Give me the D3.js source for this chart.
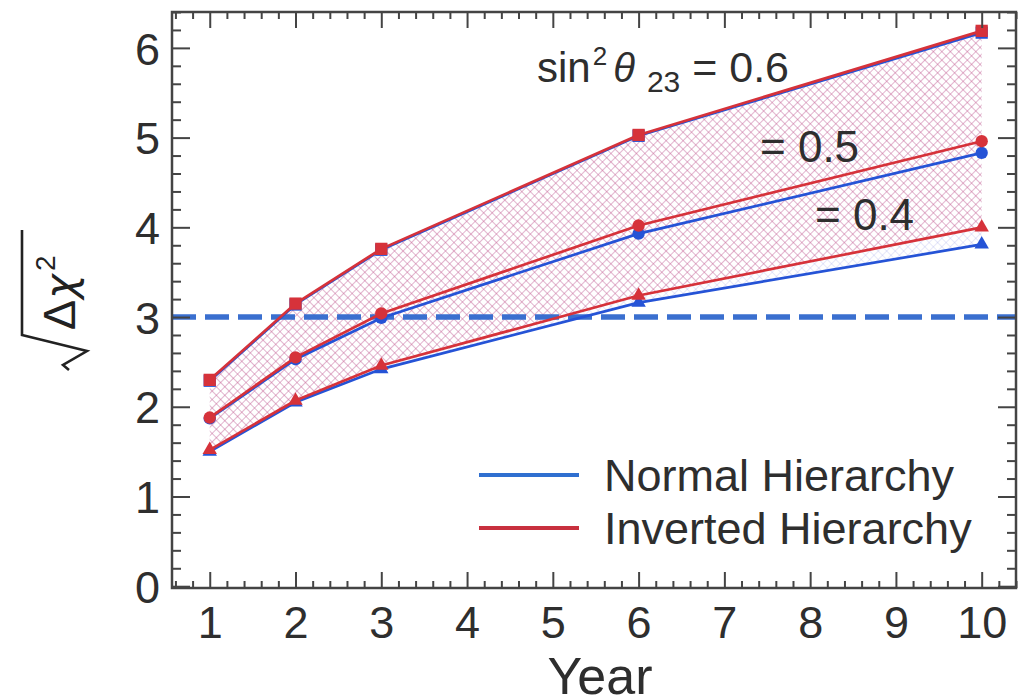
<!DOCTYPE html>
<html>
<head>
<meta charset="utf-8">
<script src="https://cdn.jsdelivr.net/npm/d3@7"></script>
<style>
  body { margin: 0; background: #fff; }
  svg { display: block; font-family: "Liberation Sans", Arial, sans-serif; }
</style>
</head>
<body>
<svg id="chart" width="1018" height="698"></svg>
<script>
// Exposure years at which the sensitivity was evaluated
const years = [1, 2, 3, 6, 10];

// sqrt(Δχ²) for normal hierarchy, by sin²θ23
const nhS06 = [2.29, 3.14, 3.75, 5.02, 6.17];
const nhS05 = [1.87, 2.53, 2.99, 3.93, 4.83];
const nhS04 = [1.50, 2.05, 2.42, 3.16, 3.81];

// sqrt(Δχ²) for inverted hierarchy, by sin²θ23
const ihS06 = [2.30, 3.15, 3.76, 5.03, 6.19];
const ihS05 = [1.88, 2.55, 3.04, 4.02, 4.96];
const ihS04 = [1.52, 2.07, 2.46, 3.24, 4.00];

// 3σ reference level
const threeSigma = 3;

// Axis ticks
const xTicks = [1, 2, 3, 4, 5, 6, 7, 8, 9, 10];
const yTicks = [0, 1, 2, 3, 4, 5, 6];

const NH_COLOR = "#2553d6";
const IH_COLOR = "#d6323a";
const TEXT = "#2e2e2e";

const svg = d3.select("#chart");
const L = 172, R = 1016, T = 12, B = 588;

const x = d3.scaleLinear().domain([0.56, 10.4]).range([L, R]);
const y = d3.scaleLinear().domain([-0.02, 6.4]).range([B, T]);

// hatch patterns for the sensitivity bands
const defs = svg.append("defs");
function hatch(id, color, op) {
  const p = defs.append("pattern")
    .attr("id", id)
    .attr("patternUnits", "userSpaceOnUse")
    .attr("width", 6).attr("height", 6)
    .attr("patternTransform", "rotate(45)");
  p.append("line").attr("x1", 0).attr("y1", 0).attr("x2", 0).attr("y2", 6)
    .attr("stroke", color).attr("stroke-width", 1.6).attr("stroke-opacity", op);
  p.append("line").attr("x1", 0).attr("y1", 0).attr("x2", 6).attr("y2", 0)
    .attr("stroke", color).attr("stroke-width", 1.6).attr("stroke-opacity", op);
}
hatch("hatchIH", "#e0567a", 0.42);
hatch("hatchNH", "#7f86e0", 0.25);

const band = (hi, lo) => d3.area()
  .x((d, i) => x(years[i]))
  .y0((d, i) => y(lo[i]))
  .y1((d, i) => y(hi[i]))(years);

svg.append("path").attr("d", band(nhS06, nhS04)).attr("fill", "url(#hatchNH)");
svg.append("path").attr("d", band(ihS06, ihS04)).attr("fill", "url(#hatchIH)");

// 3σ dashed line
svg.append("line")
  .attr("x1", x.range()[0]).attr("x2", x.range()[1])
  .attr("y1", y(threeSigma)).attr("y2", y(threeSigma))
  .attr("stroke", "#3a6fcf").attr("stroke-width", 5.5)
  .attr("stroke-dasharray", "24,9");

const line = d3.line().x((d, i) => x(years[i])).y(d => y(d));

function series(vals, color, symType, size) {
  svg.append("path").attr("d", line(vals))
    .attr("fill", "none").attr("stroke", color).attr("stroke-width", 2.7);
  svg.append("g").selectAll("path").data(vals).join("path")
    .attr("transform", (d, i) => `translate(${x(years[i])},${y(d)})`)
    .attr("d", d3.symbol().type(symType).size(size))
    .attr("fill", color);
}

series(nhS06, NH_COLOR, d3.symbolSquare, 150);
series(nhS05, NH_COLOR, d3.symbolCircle, 120);
series(nhS04, NH_COLOR, d3.symbolTriangle, 90);
series(ihS06, IH_COLOR, d3.symbolSquare, 150);
series(ihS05, IH_COLOR, d3.symbolCircle, 120);
series(ihS04, IH_COLOR, d3.symbolTriangle, 90);

// axes: major and minor ticks on all four sides, pointing inward
const minorX = d3.range(3, 53).map(i => i / 5).filter(v => !Number.isInteger(v));
const minorY = d3.range(0, 33).map(i => i / 5).filter(v => !Number.isInteger(v));

function styleAxis(g) {
  g.select(".domain").remove();
  g.selectAll(".tick line").attr("stroke", "#444").attr("stroke-width", 2);
  g.selectAll(".tick text").attr("fill", TEXT).attr("font-size", 45)
    .attr("font-family", "Liberation Sans, Arial, sans-serif");
}

svg.append("g").attr("transform", `translate(0,${B})`)
  .call(d3.axisBottom(x).tickValues(xTicks).tickSize(-16).tickPadding(18).tickFormat(d3.format("d")))
  .call(styleAxis);
svg.append("g").attr("transform", `translate(0,${B})`)
  .call(d3.axisBottom(x).tickValues(minorX).tickSize(-7).tickFormat(""))
  .call(styleAxis);
svg.append("g").attr("transform", `translate(0,${T})`)
  .call(d3.axisTop(x).tickValues(xTicks).tickSize(-16).tickFormat(""))
  .call(styleAxis);
svg.append("g").attr("transform", `translate(0,${T})`)
  .call(d3.axisTop(x).tickValues(minorX).tickSize(-7).tickFormat(""))
  .call(styleAxis);

svg.append("g").attr("transform", `translate(${L},0)`)
  .call(d3.axisLeft(y).tickValues(yTicks).tickSize(-18).tickPadding(12).tickFormat(d3.format("d")))
  .call(styleAxis)
  .call(g => g.selectAll(".tick text").attr("dy", "0.36em"));
svg.append("g").attr("transform", `translate(${L},0)`)
  .call(d3.axisLeft(y).tickValues(minorY).tickSize(-9).tickFormat(""))
  .call(styleAxis);
svg.append("g").attr("transform", `translate(${R},0)`)
  .call(d3.axisRight(y).tickValues(yTicks).tickSize(-18).tickFormat(""))
  .call(styleAxis);
svg.append("g").attr("transform", `translate(${R},0)`)
  .call(d3.axisRight(y).tickValues(minorY).tickSize(-9).tickFormat(""))
  .call(styleAxis);

// plot frame
svg.append("rect")
  .attr("x", L).attr("y", T).attr("width", R - L).attr("height", B - T)
  .attr("fill", "none").attr("stroke", "#444").attr("stroke-width", 2.5);

// x-axis title
svg.append("text").attr("x", 600).attr("y", 694)
  .attr("text-anchor", "middle").attr("font-size", 52).attr("fill", TEXT)
  .text("Year");

// y-axis title: sqrt(Δχ²)
const yl = svg.append("g").attr("transform", "translate(75,330) rotate(-90)");
const ylt = yl.append("text").attr("x", 0).attr("y", 0)
  .attr("font-size", 45).attr("fill", "#222");
ylt.append("tspan").text("Δ");
ylt.append("tspan").attr("font-family", "DejaVu Sans").attr("font-style", "italic")
  .attr("font-size", 42).attr("dx", 1).text("χ");
ylt.append("tspan").attr("font-size", 28).attr("dy", -20).attr("dx", 3).text("2");
yl.append("path")
  .attr("d", "M -40,-6 L -35,-12 L -21,12 L -5,-53 L 100,-53")
  .attr("fill", "none").attr("stroke", "#222").attr("stroke-width", 2.6)
  .attr("stroke-linejoin", "miter");

// sin²θ23 annotations
const s6 = svg.append("text").attr("x", 537).attr("y", 82)
  .attr("font-size", 42).attr("fill", TEXT);
s6.append("tspan").text("sin");
s6.append("tspan").attr("font-size", 26).attr("dy", -17).attr("dx", 2).text("2");
s6.append("tspan").attr("font-size", 40).attr("font-style", "italic").attr("dy", 17).attr("dx", 6).text("θ");
s6.append("tspan").attr("font-size", 30).attr("dy", 10).attr("dx", 12).text("23");
s6.append("tspan").attr("font-size", 43).attr("dy", -10).attr("dx", 0).text(" = 0.6");

svg.append("text").attr("x", 760).attr("y", 162)
  .attr("font-size", 44).attr("fill", TEXT).text("= 0.5");
svg.append("text").attr("x", 815).attr("y", 230)
  .attr("font-size", 44).attr("fill", TEXT).text("= 0.4");

// legend
const legend = [
  { label: "Normal Hierarchy", color: "#2f6fd0", y: 475 },
  { label: "Inverted Hierarchy", color: "#c8303e", y: 528 }
];
const lg = svg.append("g");
lg.selectAll("line").data(legend).join("line")
  .attr("x1", 479).attr("x2", 579)
  .attr("y1", d => d.y).attr("y2", d => d.y)
  .attr("stroke", d => d.color).attr("stroke-width", 4);
lg.selectAll("text").data(legend).join("text")
  .attr("x", 604).attr("y", d => d.y + 16)
  .attr("font-size", 45).attr("fill", TEXT)
  .text(d => d.label);
</script>
</body>
</html>
